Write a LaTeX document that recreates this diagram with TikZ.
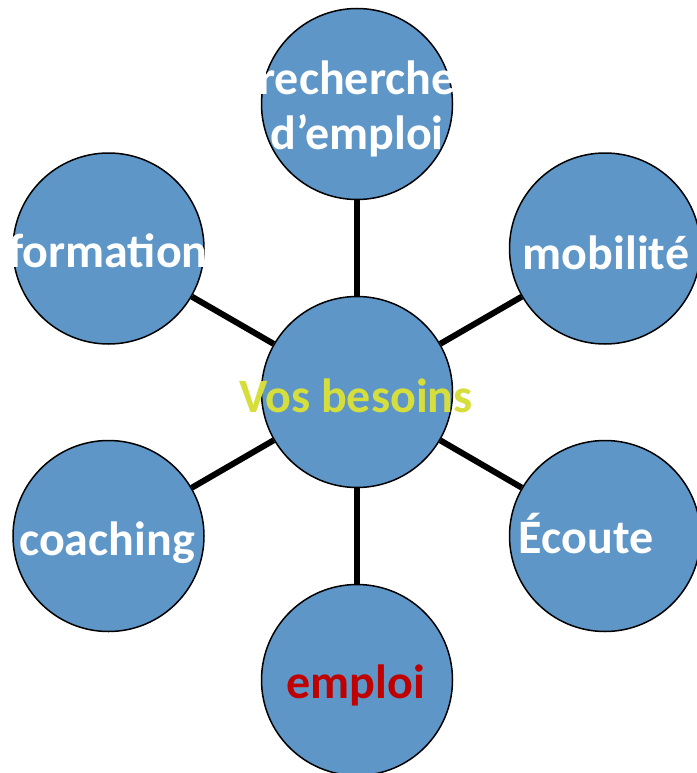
\documentclass[tikz,border=0pt]{standalone}
\usepackage{fontspec}
\setmainfont{Carlito}
\definecolor{bubble}{RGB}{94,150,200}
\definecolor{besoin}{RGB}{214,222,60}
\definecolor{rouge}{RGB}{192,0,0}
\begin{document}
\begin{tikzpicture}[x=1pt,y=-1pt,
  bub/.style={circle,draw=black,line width=1.5pt,fill=bubble,minimum size=191pt,inner sep=0pt},
  lbl/.style={anchor=base,inner sep=0pt,text=white,font=\fontsize{48}{54}\selectfont\bfseries},
  conn/.style={line width=6pt,black}]
\useasboundingbox (0,0) rectangle (696,773);
\fill[white] (0,0) rectangle (696,773);
\node[bub] (c) at (357,392) {};
\node[bub] (t) at (357,104) {};
\node[bub] (ur) at (605,248.5) {};
\node[bub] (lr) at (605,536) {};
\node[bub] (b) at (357,680) {};
\node[bub] (ll) at (108.5,536) {};
\node[bub] (ul) at (108.5,248.5) {};
\foreach \n in {t,ur,lr,b,ll,ul} \draw[conn] (c) -- (\n);
\node[lbl] (tc1) at (357,95) {recherche};
\node[lbl] (tc2) at (357,149) {d’emploi};
\node[lbl] (ulc) at (108,267) {formation};
\node[lbl] (urc) at (606,269) {mobilité};
\node[lbl] (lrc) at (586,553) {Écoute};
\node[lbl] (llc) at (107,555) {coaching};
\node[lbl,text=rouge] (bc) at (356,698) {emploi};
\node[lbl,text=besoin] (cc) at (356,412) {Vos besoins};
\end{tikzpicture}
\end{document}
